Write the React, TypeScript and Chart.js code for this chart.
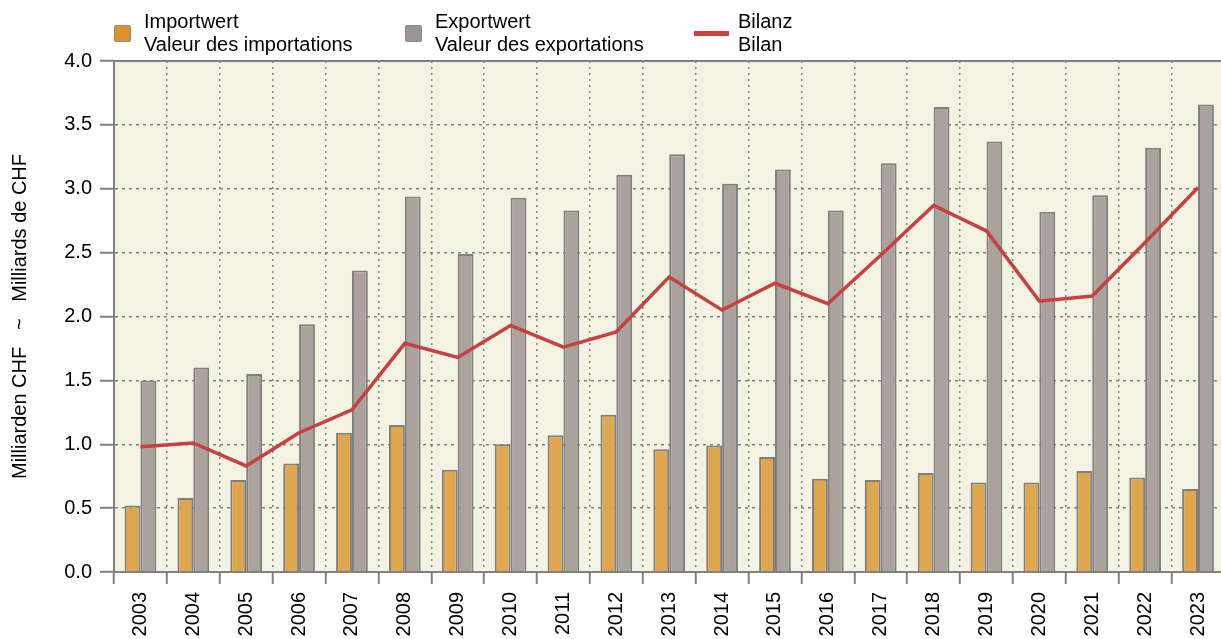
import React, { useEffect, useRef } from "react";
import { Chart, registerables } from "chart.js";

Chart.register(...registerables);

const years = ["2003","2004","2005","2006","2007","2008","2009","2010","2011","2012","2013","2014","2015","2016","2017","2018","2019","2020","2021","2022","2023"];
const importValues = [0.52,0.58,0.72,0.85,1.09,1.15,0.80,1.00,1.07,1.23,0.96,0.99,0.90,0.73,0.72,0.775,0.70,0.70,0.79,0.74,0.65];
const exportValues = [1.50,1.60,1.55,1.94,2.36,2.94,2.49,2.93,2.83,3.11,3.27,3.04,3.15,2.83,3.20,3.64,3.37,2.82,2.95,3.32,3.66];
const balanceValues = [0.98,1.01,0.83,1.09,1.27,1.79,1.68,1.93,1.76,1.88,2.31,2.05,2.26,2.10,2.48,2.87,2.67,2.12,2.16,2.58,3.01];
const yTicks = [0, 0.5, 1.0, 1.5, 2.0, 2.5, 3.0, 3.5, 4.0];

const FONT = "'Liberation Sans', Arial, sans-serif";
const GRAY = "#808080";

const bgPlugin = {
  id: "plotBg",
  beforeDraw(chart: any) {
    const { ctx, chartArea: a } = chart;
    ctx.save();
    ctx.fillStyle = "#F3F3E3";
    ctx.fillRect(a.left, a.top, a.right - a.left, a.bottom - a.top);
    ctx.restore();
  },
  afterDatasetsDraw(chart: any) {
    const { ctx, chartArea: a } = chart;
    ctx.save();
    ctx.strokeStyle = GRAY;
    ctx.lineWidth = 2;
    ctx.beginPath();
    ctx.moveTo(a.left, a.top);
    ctx.lineTo(a.right, a.top);
    ctx.stroke();
    ctx.restore();
  },
};

export default function App() {
  const ref = useRef<HTMLCanvasElement | null>(null);
  useEffect(() => {
    if (!ref.current) return;
    const chart = new Chart(ref.current, {
      type: "bar",
      data: {
        labels: years,
        datasets: [
          {
            type: "line",
            label: "Bilanz",
            data: balanceValues,
            borderColor: "#C8403F",
            borderWidth: 3.5,
            pointRadius: 0,
            tension: 0,
            order: 0,
          } as any,
          {
            label: "Importwert",
            data: importValues,
            backgroundColor: "#E0A64E",
            borderColor: "#7F7F7F",
            borderWidth: 2,
            categoryPercentage: 0.6,
            barPercentage: 1,
            order: 1,
          },
          {
            label: "Exportwert",
            data: exportValues,
            backgroundColor: "#AAA29D",
            borderColor: "#7F7F7F",
            borderWidth: 2,
            categoryPercentage: 0.6,
            barPercentage: 1,
            order: 1,
          },
        ],
      },
      options: {
        animation: false,
        responsive: false,
        maintainAspectRatio: false,
        layout: { padding: { top: 61, right: 0, left: 0, bottom: 0 } },
        plugins: {
          legend: { display: false },
          tooltip: { enabled: false },
        },
        scales: {
          x: {
            offset: true,
            grid: {
              offset: true,
              color: GRAY,
              lineWidth: 1.5,
              tickLength: 12,
              tickColor: GRAY,
              tickWidth: 2,
              drawTicks: true,
            },
            border: { display: true, color: GRAY, width: 2, dash: [2, 4] },
            ticks: {
              autoSkip: false,
              maxRotation: 90,
              minRotation: 90,
              padding: 8,
              color: "#000",
              font: { family: FONT, size: 20 },
            },
            afterFit(scale: any) {
              scale.height = 67;
            },
          },
          y: {
            min: 0,
            max: 4,
            afterBuildTicks(scale: any) {
              scale.ticks = yTicks.map((v) => ({ value: v }));
            },
            grid: {
              color: GRAY,
              lineWidth: 1.5,
              tickLength: 14,
              tickColor: GRAY,
              tickWidth: 2,
            },
            border: { display: true, color: GRAY, width: 2, dash: [3, 4] },
            ticks: {
              padding: 8,
              color: "#000",
              font: { family: FONT, size: 20 },
              callback: (v: any) => Number(v).toFixed(1),
            },
            title: {
              display: true,
              text: "Milliarden CHF   ~   Milliards de CHF",
              color: "#000",
              font: { family: FONT, size: 20 },
              padding: { top: 8, bottom: 0 },
            },
            afterFit(scale: any) {
              scale.width = 114;
            },
          },
        },
      },
      plugins: [bgPlugin],
    });
    return () => chart.destroy();
  }, []);

  const textStyle: React.CSSProperties = {
    position: "absolute",
    fontFamily: FONT,
    fontSize: 20,
    lineHeight: "23px",
    color: "#000",
    whiteSpace: "nowrap",
  };

  return (
    <div style={{ position: "absolute", left: 0, top: 0, width: 1221, height: 639, background: "#fff", overflow: "hidden" }}>
      <canvas ref={ref} width={1230} height={639} style={{ position: "absolute", left: 0, top: 0 }} />
      <div style={{ position: "absolute", left: 114, top: 25, width: 15, height: 15, background: "#DD9329", border: "1.5px solid #8a8a8a", borderRadius: 2 }} />
      <div style={{ ...textStyle, left: 144, top: 10 }}>Importwert<br />Valeur des importations</div>
      <div style={{ position: "absolute", left: 405, top: 25, width: 15, height: 15, background: "#9E9590", border: "1.5px solid #8a8a8a", borderRadius: 2 }} />
      <div style={{ ...textStyle, left: 435, top: 10 }}>Exportwert<br />Valeur des exportations</div>
      <div style={{ position: "absolute", left: 694, top: 31, width: 35, height: 5, background: "#C8403F" }} />
      <div style={{ ...textStyle, left: 738, top: 10 }}>Bilanz<br />Bilan</div>
    </div>
  );
}
